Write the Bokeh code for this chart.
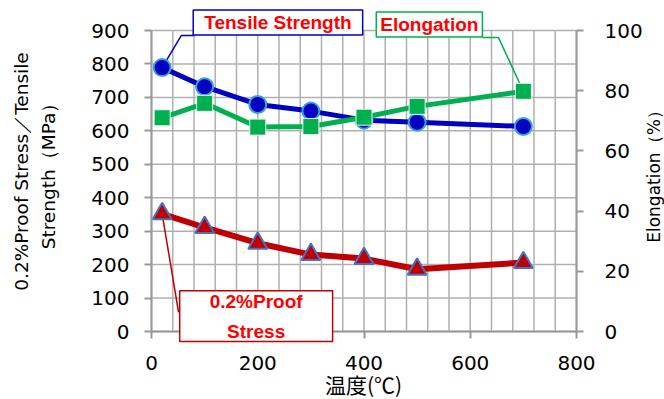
import math
from bokeh.plotting import figure
from bokeh.models import Range1d, LinearAxis, FixedTicker, Label
from bokeh.core.properties import value
from bokeh.embed import file_html
from bokeh.resources import INLINE

# ---- data ----
temps = [20, 100, 200, 300, 400, 500, 700]
tensile = [789, 732, 679, 659, 632, 626, 613]      # MPa (left axis)
proof = [352, 311, 264, 230, 218, 186, 206]        # MPa (left axis)
elong = [71.0, 75.8, 67.9, 68.1, 71.2, 74.8, 79.8] # % (right axis)

x_ticks = [0, 200, 400, 600, 800]
x_grid = [0, 40, 80, 120, 160, 200, 240, 280, 320, 360, 400, 440, 480,
          520, 560, 600, 640, 680, 720, 760, 800]
left_ticks = [0, 100, 200, 300, 400, 500, 600, 700, 800, 900]
right_ticks = [0, 20, 40, 60, 80, 100]

x_title = "温度(℃)"
left_title_1 = "0.2%Proof Stress／Tensile"
left_title_2 = "Strength（MPa）"
right_title = "Elongation（%）"

# callout anchors (data coordinates)
ts_lead_x = [temps[0], 56, 81]
ts_lead_y = [tensile[0], 885, 885]
el_lead_x = [temps[-1], 653, 623]
el_lead_y = [elong[-1], 97.7, 97.7]
ps_lead_x = [temps[0], 51]
ps_lead_y = [proof[0], 57]

BLUE = "#0000C0"
GREEN = "#00B050"
RED = "#C00000"
GRID = "#B0B0B0"
AXIS = "#999999"
NUMFONT = "DejaVu Sans"

# layout geometry: plot area 425 x 301 px, placed 151 px from left, 68 px from bottom
W, H = 664, 399
PLOT_W, PLOT_H = 425, 301
LEFT_GAP, BOTTOM_GAP = 151, 68
X_MAX = x_ticks[-1]
L_MAX = left_ticks[-1]
R_MAX = right_ticks[-1]
x_lo = -LEFT_GAP * X_MAX / PLOT_W
x_hi = (W - LEFT_GAP) * X_MAX / PLOT_W
y_lo = -BOTTOM_GAP * L_MAX / PLOT_H
y_hi = (H - BOTTOM_GAP) * L_MAX / PLOT_H
r_lo = -BOTTOM_GAP * R_MAX / PLOT_H
r_hi = (H - BOTTOM_GAP) * R_MAX / PLOT_H

def px_x(px):  # canvas px -> x data
    return (px - LEFT_GAP) * X_MAX / PLOT_W

def px_y(py):  # canvas px (from top) -> left-axis data
    return (H - BOTTOM_GAP - py) * L_MAX / PLOT_H

p = figure(width=W, height=H, output_backend="svg", toolbar_location=None,
           x_range=Range1d(x_lo, x_hi), y_range=Range1d(y_lo, y_hi),
           min_border_left=0, min_border_right=0,
           min_border_top=0, min_border_bottom=0)
p.outline_line_color = None
p.background_fill_color = "white"
p.border_fill_color = "white"

p.extra_y_ranges = {"right": Range1d(r_lo, r_hi)}

# grids (limited to the plot area)
p.xgrid.visible = False
p.ygrid.visible = False
p.segment(x0=x_grid, y0=0, x1=x_grid, y1=L_MAX, line_color=GRID, line_width=1.5)
p.segment(x0=0, y0=left_ticks, x1=X_MAX, y1=left_ticks, line_color=GRID, line_width=1.5)

def style_axis(ax):
    ax.axis_line_color = AXIS
    ax.axis_line_width = 2
    ax.major_tick_line_color = AXIS
    ax.major_tick_line_width = 2
    ax.major_tick_in = 0
    ax.major_tick_out = 7
    ax.minor_tick_line_color = None
    ax.major_label_text_font = NUMFONT
    ax.major_label_text_font_size = "20px"
    ax.major_label_text_color = "black"

xa = p.xaxis[0]
style_axis(xa)
xa.fixed_location = 0
xa.bounds = (0, X_MAX)
xa.ticker = FixedTicker(ticks=x_ticks)
xa.major_label_standoff = 17

ya = p.yaxis[0]
style_axis(ya)
ya.fixed_location = 0
ya.bounds = (0, L_MAX)
ya.ticker = FixedTicker(ticks=left_ticks)
ya.major_label_standoff = 15

ra = LinearAxis(y_range_name="right", ticker=FixedTicker(ticks=right_ticks))
style_axis(ra)
ra.fixed_location = X_MAX
ra.bounds = (0, R_MAX)
ra.major_label_standoff = 21
p.add_layout(ra, "right")

# axis titles
p.text(x=[px_x(363)], y=[px_y(383)], text=[x_title], text_align="center",
       text_baseline="middle", text_font=value("Noto Sans CJK JP"),
       text_font_size="21px", text_color="black")
p.text(x=[px_x(21), px_x(48)], y=[px_y(171), px_y(171)],
       text=[left_title_1, left_title_2], angle=math.pi / 2,
       text_align="center", text_baseline="middle", text_font=value("DejaVu Sans"),
       text_font_size="18.5px", text_color="black")
p.text(x=[px_x(653)], y=[px_y(172)], text=[right_title], angle=math.pi / 2,
       text_align="center", text_baseline="middle", text_font=value("DejaVu Sans"),
       text_font_size="17px", text_color="black")

# leader lines
p.line(ts_lead_x, ts_lead_y, line_color=BLUE, line_width=1.5)
p.line(el_lead_x, el_lead_y, line_color=GREEN, line_width=1.5, y_range_name="right")
p.line(ps_lead_x, ps_lead_y, line_color=RED, line_width=1.5)

# series
p.line(temps, proof, line_color=RED, line_width=6)
p.scatter(temps, proof, marker="triangle", size=19, fill_color=RED,
          line_color="#4472C4", line_width=2)

p.line(temps, tensile, line_color=BLUE, line_width=5)
p.scatter(temps, tensile, marker="circle", size=17, fill_color=BLUE,
          line_color="#33A3DC", line_width=2)

p.line(temps, elong, line_color=GREEN, line_width=5, y_range_name="right")
p.scatter(temps, elong, marker="square", size=16, fill_color=GREEN,
          line_color="#E8F5EC", line_width=1, y_range_name="right")

# callout labels
def callout(x, y, text, border, pad):
    lab = Label(x=x, y=y, text=text, text_align="center", text_baseline="middle",
                text_font="Liberation Sans", text_font_style="bold",
                text_font_size="19px", text_color="#FF0000",
                background_fill_color="white", border_line_color=border,
                border_line_width=1.5, padding=pad, text_line_height=1.42)
    p.add_layout(lab)

callout(238, 924, "Tensile Strength", BLUE, dict(left=11, right=11, top=2, bottom=2))
callout(523, 918, "Elongation", GREEN, dict(left=4, right=4, top=2, bottom=2))
callout(197, 46, "0.2%Proof\nStress", RED, dict(left=30, right=30, top=0, bottom=0))

open("out.html", "w").write(file_html(p, INLINE))
